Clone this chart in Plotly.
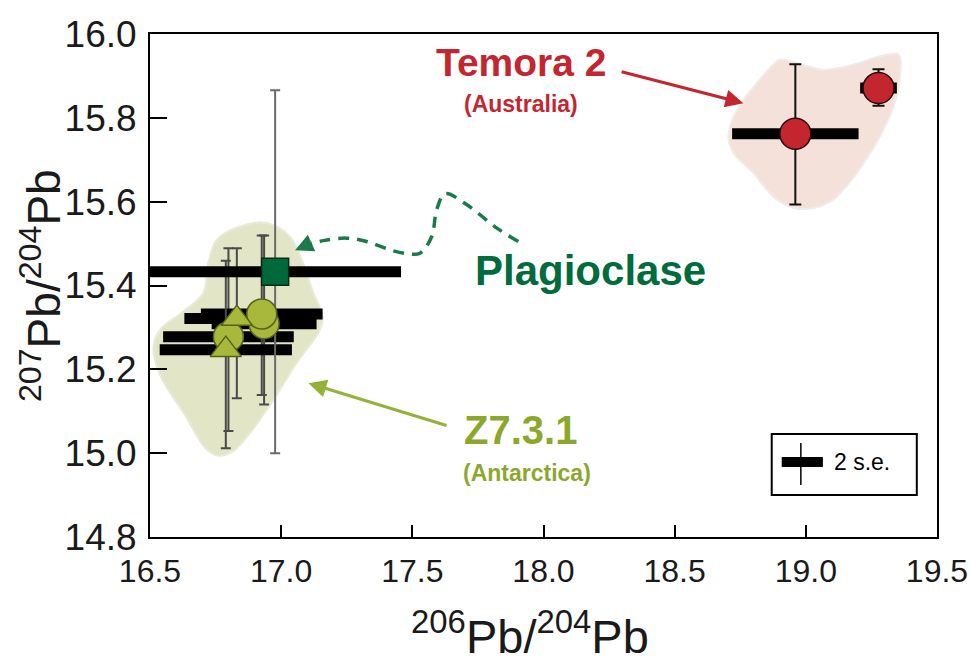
import plotly.graph_objects as go

# ---------------- data ----------------
# Temora 2 (Australia) zircon
temora_x = [18.96, 19.277]
temora_y = [15.762, 15.871]
temora_xerr = [0.241, 0.07]
temora_yerr_plus = [0.166, 0.045]
temora_yerr_minus = [0.169, 0.042]

# Plagioclase
plag_x = [16.977]
plag_y = [15.433]
plag_xerr = [0.48]
plag_yerr = [0.433]

# Z7.3.1 (Antarctica) - circles
zc_x = [16.799, 16.935, 16.926]
zc_y = [15.278, 15.309, 15.332]
zc_xerr = [0.249, 0.20, 0.232]
zc_yerr_plus = [0.211, 0.21, 0.187]
zc_yerr_minus = [0.225, 0.193, 0.193]

# Z7.3.1 (Antarctica) - triangles
zt_x = [16.831, 16.789]
zt_y = [15.321, 15.247]
zt_xerr = [0.20, 0.252]
zt_yerr_plus = [0.168, 0.212]
zt_yerr_minus = [0.19, 0.235]

# hand-drawn field outlines
z_field_x = [16.843, 16.945, 17.034, 17.083, 17.121, 17.158, 17.148, 17.059, 16.970, 16.881,
             16.813, 16.759, 16.710, 16.633, 16.538, 16.513, 16.538, 16.627, 16.703, 16.722, 16.754]
z_field_y = [15.541, 15.549, 15.516, 15.454, 15.385, 15.326, 15.294, 15.215, 15.127, 15.048,
             15.003, 14.994, 15.013, 15.091, 15.187, 15.254, 15.294, 15.338, 15.382, 15.453, 15.509]
t_field_x = [18.902, 19.067, 19.181, 19.283, 19.353, 19.359, 19.334, 19.283, 19.194, 19.105,
             19.029, 18.953, 18.876, 18.800, 18.724, 18.705, 18.737, 18.813, 18.876]
t_field_y = [15.939, 15.915, 15.927, 15.947, 15.951, 15.899, 15.827, 15.756, 15.668, 15.605,
             15.585, 15.585, 15.612, 15.668, 15.716, 15.756, 15.819, 15.883, 15.927]

# dashed plagioclase pointer
dash_x = [17.904, 17.822, 17.707, 17.625, 17.593, 17.574, 17.529, 17.479, 17.415, 17.326, 17.250, 17.161, 17.10]
dash_y = [15.505, 15.537, 15.593, 15.619, 15.581, 15.517, 15.477, 15.476, 15.485, 15.505, 15.513, 15.507, 15.497]

x_ticks = [16.5, 17.0, 17.5, 18.0, 18.5, 19.0, 19.5]
y_ticks = [14.8, 15.0, 15.2, 15.4, 15.6, 15.8, 16.0]
x_title = "<sup>206</sup>Pb/<sup>204</sup>Pb"
y_title = "<sup>207</sup>Pb/<sup>204</sup>Pb"

# ---------------- styles ----------------
RED = "#C4262F"
OLIVE = "#A7B83A"
OLIVE_TXT = "#8CA82C"
DKGREEN = "#00693C"
FONT = "Liberation Sans, Arial, sans-serif"

fig = go.Figure()

# fields
fig.add_trace(go.Scatter(x=z_field_x + z_field_x[:1], y=z_field_y + z_field_y[:1], mode="lines",
                         line=dict(color="#E9EBD9", width=2, shape="spline"), fill="toself",
                         fillcolor="#E2E6C6", hoverinfo="skip", showlegend=False))
fig.add_trace(go.Scatter(x=t_field_x + t_field_x[:1], y=t_field_y + t_field_y[:1], mode="lines",
                         line=dict(color="#F0ECEA", width=2, shape="spline"), fill="toself",
                         fillcolor="#F3E1DA", hoverinfo="skip", showlegend=False))

# dashed pointer
fig.add_trace(go.Scatter(x=dash_x, y=dash_y, mode="lines",
                         line=dict(color="#1B7A4A", width=3.5, dash="11px,8px", shape="spline"),
                         hoverinfo="skip", showlegend=False))

def bars(x, y, xe, yp, ym, capw, ycol):
    return go.Scatter(x=x, y=y, mode="markers", marker=dict(size=1, color="rgba(0,0,0,0)"),
                      error_x=dict(type="data", array=xe, color="black", thickness=11, width=0),
                      error_y=dict(type="data", array=yp, arrayminus=ym, color=ycol,
                                   thickness=2, width=capw),
                      hoverinfo="skip", showlegend=False)

fig.add_trace(bars(temora_x, temora_y, temora_xerr, temora_yerr_plus, temora_yerr_minus, 6, "#111111"))
fig.add_trace(bars(zc_x, zc_y, zc_xerr, zc_yerr_plus, zc_yerr_minus, 5, "#4a4a4a"))
fig.add_trace(bars(zt_x, zt_y, zt_xerr, zt_yerr_plus, zt_yerr_minus, 5, "#4a4a4a"))
fig.add_trace(bars(plag_x, plag_y, plag_xerr, plag_yerr, plag_yerr, 5, "#6a6a6a"))

# markers
fig.add_trace(go.Scatter(x=zc_x, y=zc_y, mode="markers",
                         marker=dict(symbol="circle", size=30, color=OLIVE,
                                     line=dict(color="#55621A", width=1.5)), showlegend=False))
fig.add_trace(go.Scatter(x=zt_x, y=zt_y, mode="markers",
                         marker=dict(symbol="triangle-up", size=27, color=OLIVE,
                                     line=dict(color="#55621A", width=1.5)), showlegend=False))
fig.add_trace(go.Scatter(x=plag_x, y=plag_y, mode="markers",
                         marker=dict(symbol="square", size=27, color=DKGREEN,
                                     line=dict(color="#0B2A18", width=1.5)), showlegend=False))
fig.add_trace(go.Scatter(x=temora_x, y=temora_y, mode="markers",
                         marker=dict(symbol="circle", size=31, color=RED,
                                     line=dict(color="#2A0A0A", width=1.5)), showlegend=False))

ann = []
def label(x, y, text, color, size):
    ann.append(dict(x=x, y=y, xref="x", yref="y", text=text, showarrow=False,
                    font=dict(family=FONT, size=size, color=color, weight="bold")))

label(17.916, 15.931, "Temora 2", RED, 39)
label(17.914, 15.834, "(Australia)", RED, 23)
label(18.178, 15.435, "Plagioclase", "#006B3C", 42)
label(17.911, 15.056, "Z7.3.1", OLIVE_TXT, 40)
label(17.937, 14.953, "(Antarctica)", OLIVE_TXT, 23)

def arrow(x0, y0, x1, y1, color, w):
    ann.append(dict(x=x1, y=y1, ax=x0, ay=y0, xref="x", yref="y", axref="x", ayref="y",
                    text="", showarrow=True, arrowhead=2, arrowsize=1.2, arrowwidth=w,
                    arrowcolor=color))

arrow(18.292, 15.911, 18.762, 15.835, RED, 3)
arrow(17.636, 15.065, 17.104, 15.167, "#93B23A", 3)
arrow(17.10, 15.497, 17.053, 15.484, "#1B7A4A", 3)

# axis titles
ann.append(dict(x=-0.139, y=0.5, xref="paper", yref="paper", text=y_title, textangle=-90,
                showarrow=False, xanchor="center", yanchor="middle",
                font=dict(family=FONT, size=46, color="#1a1a1a")))
ann.append(dict(x=0.483, y=-0.191, xref="paper", yref="paper", text=x_title,
                showarrow=False, xanchor="center", yanchor="middle",
                font=dict(family=FONT, size=47, color="#1a1a1a")))

# 2 s.e. key
shapes = [
    dict(type="rect", xref="x", yref="y", x0=18.870, x1=19.423, y0=14.900, y1=15.046,
         line=dict(color="black", width=2), fillcolor="white", layer="above"),
    dict(type="line", xref="x", yref="y", x0=18.908, x1=19.065, y0=14.979, y1=14.979,
         line=dict(color="black", width=10), layer="above"),
    dict(type="line", xref="x", yref="y", x0=18.981, x1=18.981, y0=14.924, y1=15.024,
         line=dict(color="black", width=1.5), layer="above"),
]
ann.append(dict(x=19.099, y=14.979, xref="x", yref="y", text="2 s.e.", showarrow=False,
                xanchor="left", font=dict(family=FONT, size=23, color="black")))

fig.update_layout(
    width=969, height=664,
    margin=dict(l=150, r=32, t=34, b=127, autoexpand=False),
    plot_bgcolor="white", paper_bgcolor="white",
    annotations=ann, shapes=shapes,
    font=dict(family=FONT, color="#1a1a1a"),
)
fig.update_xaxes(range=[16.5, 19.5], tickvals=x_ticks, ticktext=[f"{v:.1f}" for v in x_ticks],
                 showgrid=False, zeroline=False, showline=True, linecolor="black", linewidth=2,
                 mirror=True, ticks="inside", ticklen=12, tickwidth=1.5, tickcolor="black",
                 tickfont=dict(family=FONT, size=32), ticklabelstandoff=5, automargin=False,
                 ticklabeloverflow="allow")
fig.update_yaxes(range=[14.8, 16.0], tickvals=y_ticks, ticktext=[f"{v:.1f}" for v in y_ticks],
                 showgrid=False, zeroline=False, showline=True, linecolor="black", linewidth=2,
                 mirror=True, ticks="inside", ticklen=17, tickwidth=1.5, tickcolor="black",
                 tickfont=dict(family=FONT, size=37), ticklabelstandoff=4, automargin=False)

fig.write_html("out.html", config={"displayModeBar": False},
               post_script="document.body.style.margin='0';")
